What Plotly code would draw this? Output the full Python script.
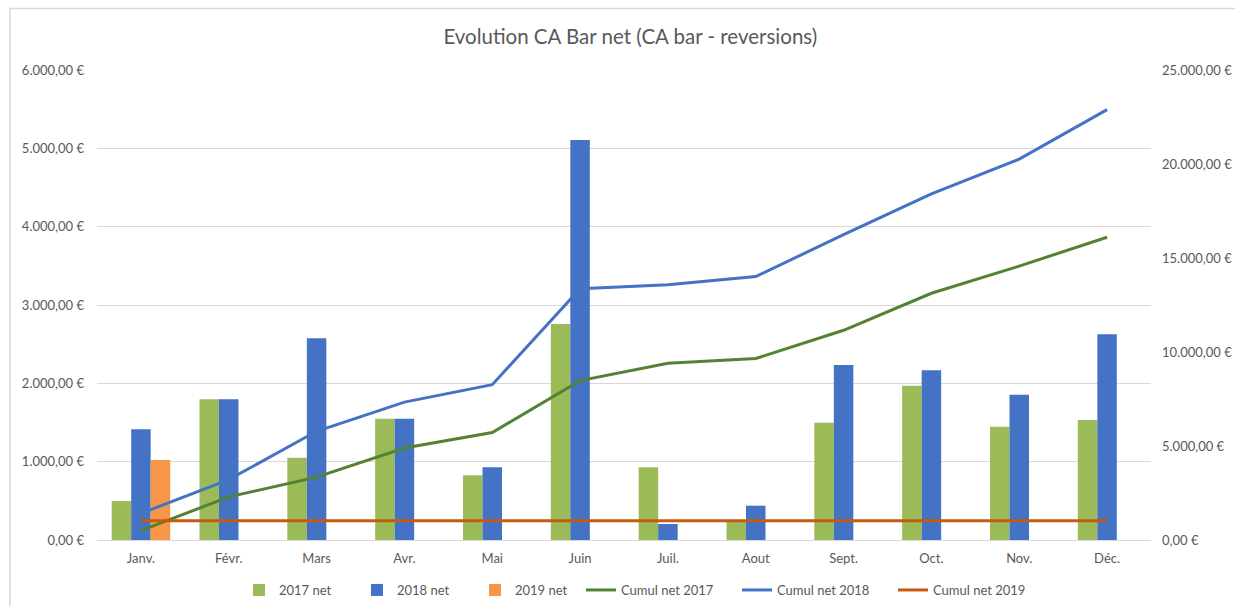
import plotly.graph_objects as go

months = ["Janv.", "Févr.", "Mars", "Avr.", "Mai", "Juin", "Juil.", "Aout", "Sept.", "Oct.", "Nov.", "Déc."]
net_2017 = [498, 1796, 1051, 1549, 826, 2758, 928, 250, 1498, 1970, 1447, 1532]
net_2018 = [1413, 1796, 2575, 1549, 928, 5107, 204, 438, 2234, 2166, 1855, 2626]
net_2019 = [1021, None, None, None, None, None, None, None, None, None, None, None]
cumul_2017 = [498, 2294, 3345, 4894, 5720, 8478, 9406, 9656, 11154, 13124, 14571, 16103]
cumul_2018 = [1413, 3209, 5784, 7333, 8261, 13368, 13572, 14010, 16244, 18410, 20265, 22891]
cumul_2019 = [1021] * 12

left_ticks = [0, 1000, 2000, 3000, 4000, 5000, 6000]
left_labels = ["0,00 €", "1.000,00 €", "2.000,00 €", "3.000,00 €", "4.000,00 €", "5.000,00 €", "6.000,00 €"]
right_ticks = [0, 5000, 10000, 15000, 20000, 25000]
right_labels = ["0,00 €", "5.000,00 €", "10.000,00 €", "15.000,00 €", "20.000,00 €", "25.000,00 €"]

GREEN_BAR = "#9BBB59"
BLUE_BAR = "#4472C4"
ORANGE_BAR = "#F79646"
GREEN_LINE = "#548235"
BLUE_LINE = "#4472C4"
ORANGE_LINE = "#C55A11"
TXT = "#595959"
FONT = "Lato"

fig = go.Figure()
fig.add_trace(go.Bar(x=months, y=net_2017, name="2017 net", marker_color=GREEN_BAR, marker_line_width=0, legend="legend"))
fig.add_trace(go.Bar(x=months, y=net_2018, name="2018 net", marker_color=BLUE_BAR, marker_line_width=0, legend="legend"))
fig.add_trace(go.Bar(x=months, y=net_2019, name="2019 net", marker_color=ORANGE_BAR, marker_line_width=0, legend="legend"))
fig.add_trace(go.Scatter(x=months, y=cumul_2017, name="Cumul net 2017", mode="lines",
                         line=dict(color=GREEN_LINE, width=3), yaxis="y2", legend="legend2"))
fig.add_trace(go.Scatter(x=months, y=cumul_2018, name="Cumul net 2018", mode="lines",
                         line=dict(color=BLUE_LINE, width=3), yaxis="y2", legend="legend2"))
fig.add_trace(go.Scatter(x=months, y=cumul_2019, name="Cumul net 2019", mode="lines",
                         line=dict(color=ORANGE_LINE, width=3), yaxis="y2", legend="legend2"))

W, H = 1235, 606
L, R, T, B = 97, 84, 70, 66
pw, ph = W - L - R, H - T - B

def px_x(p):
    return (p - L) / pw

def px_y(p):
    return (H - B - p) / ph

legend_common = dict(orientation="h", yanchor="middle", y=px_y(590), xanchor="left",
                     font=dict(size=13, color=TXT, family=FONT), traceorder="normal",
                     itemwidth=30, bgcolor="rgba(0,0,0,0)", borderwidth=0,
                     entrywidthmode="pixels")

fig.update_layout(
    width=W, height=H,
    margin=dict(l=L, r=R, t=T, b=B, autoexpand=False),
    paper_bgcolor="white", plot_bgcolor="white",
    font=dict(family=FONT, color=TXT, size=13),
    title=dict(text="Evolution CA Bar net (CA bar - reversions)", x=0.506, xanchor="center",
               xref="paper", yref="container",
               y=1 - 37 / H, yanchor="middle", font=dict(size=20.5, color=TXT, family=FONT)),
    barmode="group", bargap=0.334, bargroupgap=0,
    showlegend=True,
    legend=dict(legend_common, x=px_x(239), entrywidth=73),
    legend2=dict(legend_common, x=px_x(581), entrywidth=111),
    xaxis=dict(showgrid=False, showline=True, linecolor="#D9D9D9", linewidth=1, automargin=False,
               ticks="", tickfont=dict(size=13, color=TXT), ticklabelstandoff=6),
    yaxis=dict(range=[0, 6000], tickvals=left_ticks, ticktext=left_labels, automargin=False,
               showgrid=True, gridcolor="#D9D9D9", gridwidth=1, zeroline=False,
               showline=False, ticks="", tickfont=dict(size=13, color=TXT), ticklabelstandoff=12),
    yaxis2=dict(range=[0, 25000], tickvals=right_ticks, ticktext=right_labels, automargin=False,
                overlaying="y", side="right", showgrid=False, zeroline=False,
                showline=False, ticks="", tickfont=dict(size=13, color=TXT), ticklabelstandoff=10),
    shapes=[dict(type="rect", xref="paper", yref="paper",
                 x0=px_x(10), x1=px_x(1240), y0=px_y(612), y1=px_y(8.5),
                 line=dict(color="#D9D9D9", width=1.5), fillcolor="rgba(0,0,0,0)", layer="below")],
)

fig.write_html("out.html",
               config={"displayModeBar": False},
               post_script="document.body.style.margin='0';document.body.style.padding='0';"
                           "document.body.style.overflow='hidden';")
